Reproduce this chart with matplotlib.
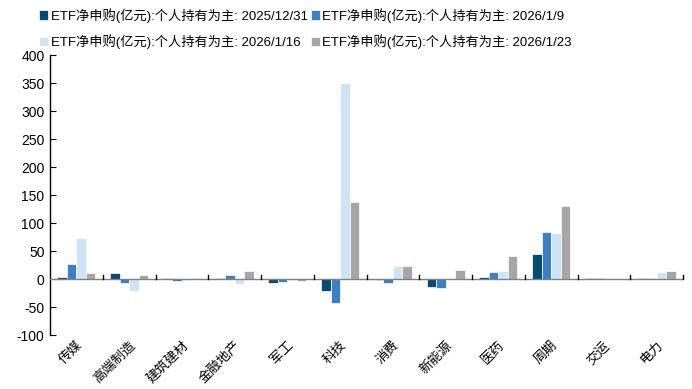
import numpy as np
import matplotlib.pyplot as plt

plt.rcParams['font.family'] = ['Liberation Sans', 'Noto Sans CJK SC', 'DejaVu Sans']
plt.rcParams['axes.unicode_minus'] = False

categories = ['传媒', '高端制造', '建筑建材', '金融地产', '军工', '科技',
              '消费', '新能源', '医药', '周期', '交运', '电力']
series_names = ['ETF净申购(亿元):个人持有为主: 2025/12/31',
                'ETF净申购(亿元):个人持有为主: 2026/1/9',
                'ETF净申购(亿元):个人持有为主: 2026/1/16',
                'ETF净申购(亿元):个人持有为主: 2026/1/23']
v_1231 = [3, 11.5, 1, 1, -7.5, -22, -1, -14, 3, 45, 1, 2]
v_0109 = [26, -7.5, -3.5, 6.5, -4.5, -42, -7, -16.5, 12.5, 84, 1, 1]
v_0116 = [73, -22, -1, -9.5, -2, 350, 23, 0.5, 15, 82, -0.5, 12]
v_0123 = [11.5, 7, 1, 15, -3, 137, 23, 15.5, 40.5, 131, 0.5, 15]
series = [v_1231, v_0109, v_0116, v_0123]
colors = ['#0a4a70', '#3d7fc1', '#cfe3f4', '#a6a6a6']

fig = plt.figure(figsize=(6.92, 3.89), dpi=100)
ax = fig.add_axes([0.0723, 0.1388, 0.9147, 0.7198])

x = np.arange(len(categories))
w = 0.18
bars = []
for i, (vals, c, name) in enumerate(zip(series, colors, series_names)):
    b = ax.bar(x + (i - 1.5) * w, vals, width=w, color=c, edgecolor='white',
               linewidth=0.5, label=name, zorder=2)
    bars.append(b)

ax.set_xlim(-0.5, len(categories) - 0.5)
ax.set_ylim(-100, 400)
ax.set_yticks(np.arange(-100, 401, 50))
ax.tick_params(axis='y', direction='in', length=4, labelsize=10, pad=4)

for s in ['top', 'right']:
    ax.spines[s].set_visible(False)
ax.spines['bottom'].set_visible(False)
ax.spines['left'].set_linewidth(1)
ax.axhline(0, color='#808080', linewidth=1, zorder=3)
for b in np.arange(0.5, len(categories) + 0.5, 1):
    ax.plot([b, b], [0, 7], color='black', linewidth=1, zorder=3, clip_on=False)

ax.set_xticks(x)
ax.set_xticklabels(categories, rotation=45, ha='right', va='top',
                   rotation_mode='anchor', fontsize=9.5)
ax.tick_params(axis='x', length=0, pad=3)

# row-wise legend order (matplotlib fills columns first)
order = [0, 2, 1, 3]
fig.legend([bars[i] for i in order], [series_names[i] for i in order],
           loc='upper left', bbox_to_anchor=(0.045, 1.0), ncol=2,
           frameon=False, fontsize=9.5, handlelength=0.7, handleheight=0.7,
           handletextpad=0.2, columnspacing=0.2, labelspacing=0.9,
           borderaxespad=0.2)

fig.savefig('out.png', dpi=100)
